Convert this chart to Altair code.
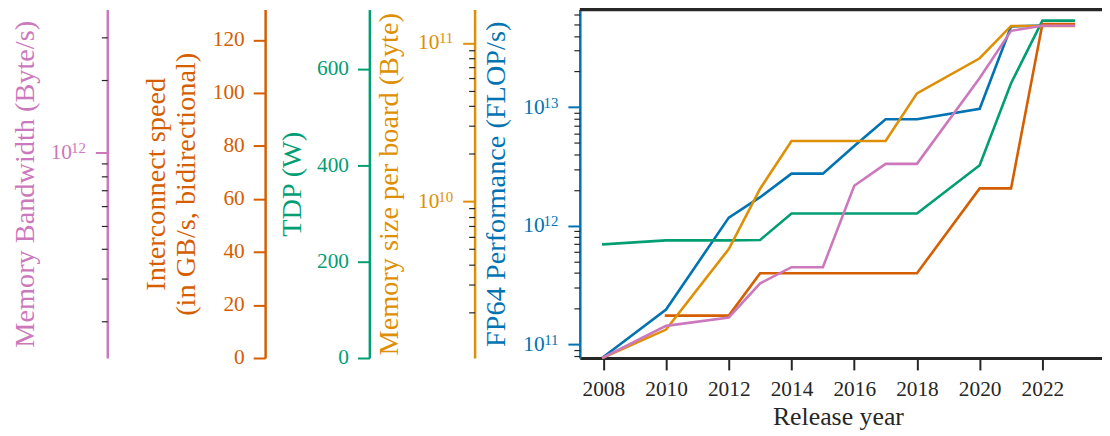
import altair as alt
import pandas as pd

# ---------------- data ----------------
years_fp64 = [2008, 2010, 2012, 2013, 2014, 2015, 2016, 2017, 2018, 2020, 2021, 2022, 2023]
fp64 = [7.8e10, 1.96e11, 1.17e12, 1.74e12, 2.75e12, 2.75e12, 4.7e12, 7.9e12, 7.9e12,
        9.7e12, 4.8e13, 4.9e13, 4.9e13]

years_memsize = [2008, 2010, 2012, 2013, 2014, 2015, 2016, 2017, 2018, 2020, 2021, 2022, 2023]
memsize = [1.03e9, 1.55e9, 5.0e9, 1.2e10, 2.4e10, 2.4e10, 2.4e10, 2.4e10, 4.8e10,
           8.0e10, 1.28e11, 1.28e11, 1.28e11]

years_tdp = [2008, 2010, 2012, 2013, 2014, 2015, 2016, 2017, 2018, 2020, 2021, 2022, 2023]
tdp = [236, 244, 244, 245, 300, 300, 300, 300, 300, 400, 570, 700, 700]

years_ic = [2010, 2012, 2013, 2014, 2015, 2016, 2017, 2018, 2020, 2021, 2022, 2023]
interconnect = [16, 16, 32, 32, 32, 32, 32, 32, 64, 64, 126, 126]

years_bw = [2008, 2010, 2012, 2013, 2014, 2015, 2016, 2017, 2018, 2020, 2021, 2022, 2023]
bandwidth = [1.42e11, 1.92e11, 2.08e11, 2.88e11, 3.36e11, 3.36e11, 7.3e11, 9.0e11, 9.0e11,
             2.04e12, 3.2e12, 3.36e12, 3.36e12]

x_ticks = [2008, 2010, 2012, 2014, 2016, 2018, 2020, 2022]

# ---------------- style ----------------
W, H = 526, 351
FONT = "Liberation Serif"
LFS = 21.5    # tick label size
EFS = 15      # exponent size
TFS = 28.5    # vertical axis title size
XTFS = 26     # x axis title size
DARK = "#262626"
C_BLUE = "#0173b2"
C_ORANGE = "#de8f05"
C_GREEN = "#029e73"
C_RED = "#d55e00"
C_PINK = "#cc78bc"

EXP = "'' + round(log(datum.value)/LN10)"

x_enc = alt.X(
    "year:Q",
    scale=alt.Scale(domain=[2007.25, 2023.9], nice=False, zero=False),
    axis=alt.Axis(values=x_ticks, format="d", title="Release year",
                  labelFont=FONT, titleFont=FONT, labelFontSize=LFS, titleFontSize=XTFS,
                  titleFontWeight="normal",
                  domainColor=DARK, domainWidth=3, tickColor=DARK, tickWidth=2,
                  tickSize=12, labelColor=DARK, labelPadding=26,
                  labelBaseline="alphabetic", titleColor=DARK,
                  titleX=260, titleY=67, titleBaseline="alphabetic", grid=False),
)


def major_axis(color, offset, title, values, title_x, log=False, line_height=None):
    kw = dict(orient="left", offset=offset, values=values, title=title,
              labelFont=FONT, titleFont=FONT, labelFontSize=LFS, titleFontSize=TFS,
              titleFontWeight="normal",
              titleColor=color, labelColor=color, domainColor=color, tickColor=color,
              domainWidth=2.5, tickWidth=2, tickSize=12, labelPadding=9, grid=False,
              titleX=title_x, titleY=H / 2, titleBaseline="alphabetic",
              titleAngle=270, titleAlign="center")
    if log:
        kw["labelExpr"] = "'10'"
        kw["labelPadding"] = 24
    else:
        kw["format"] = "d"
    if line_height:
        kw["titleLineHeight"] = line_height
    return alt.Axis(**kw)


def exp_axis(color, offset, values):
    return alt.Axis(orient="left", offset=offset, values=values, title=None,
                    labelExpr=EXP, labelFont=FONT, labelFontSize=EFS, labelColor=color,
                    labelPadding=10, labelBaseline="alphabetic", domain=False, grid=False,
                    tickSize=12, tickOpacity=0)


def minor_axis(offset, values):
    return alt.Axis(orient="left", offset=offset, values=values, title=None,
                    labels=False, domain=False, grid=False, tickColor=DARK,
                    tickWidth=1.2, tickSize=6)


def series(years, vals, color, scale, maxis, minor_vals=None, major_vals=None, offset=0):
    df = pd.DataFrame({"year": years, "value": vals})
    base = alt.Chart(df)
    line = base.mark_line(color=color, strokeWidth=2.6, strokeCap="square").encode(
        x=x_enc, y=alt.Y("value:Q", scale=scale, axis=maxis))
    if minor_vals is None:
        return line
    ghost_minor = base.mark_line(opacity=0).encode(
        x=x_enc, y=alt.Y("value:Q", scale=scale, axis=minor_axis(offset, minor_vals)))
    ghost_exp = base.mark_line(opacity=0).encode(
        x=x_enc, y=alt.Y("value:Q", scale=scale, axis=exp_axis(color, offset, major_vals)))
    return alt.layer(line, ghost_minor, ghost_exp).resolve_axis(y="independent")


fp64_major = [1e11, 1e12, 1e13]
fp64_minor = [8e10, 9e10] + [k * 1e11 for k in range(2, 10)] + \
             [k * 1e12 for k in range(2, 10)] + [k * 1e13 for k in range(2, 7)]
mem_major = [1e10, 1e11]
mem_minor = [k * 1e9 for k in range(2, 10)] + [k * 1e10 for k in range(2, 10)]
bw_major = [1e12]
bw_minor = [k * 1e11 for k in range(2, 10)] + [2e12, 3e12]

l_fp64 = series(years_fp64, fp64, C_BLUE,
                alt.Scale(type="log", domain=[7.64e10, 6.67e13], nice=False),
                major_axis(C_BLUE, 0, "FP64 Performance (FLOP/s)", fp64_major, -76, log=True),
                fp64_minor, fp64_major, 0)
l_tdp = series(years_tdp, tdp, C_GREEN,
               alt.Scale(domain=[0, 723], nice=False, zero=True),
               major_axis(C_GREEN, 212, "TDP (W)", [0, 200, 400, 600], -69))
l_ic = series(years_ic, interconnect, C_RED,
              alt.Scale(domain=[0, 131.5], nice=False, zero=True),
              major_axis(C_RED, 317, ["Interconnect speed", "(in GB/s, bidirectional)"],
                         [0, 20, 40, 60, 80, 100, 120], -101, line_height=30))
l_mem = series(years_memsize, memsize, C_ORANGE,
               alt.Scale(type="log", domain=[1.025e9, 1.624e11], nice=False),
               major_axis(C_ORANGE, 106, "Memory size per board (Byte)", mem_major, -78, log=True),
               mem_minor, mem_major, 106)
l_bw = series(years_bw, bandwidth, C_PINK,
              alt.Scale(type="log", domain=[1.413e11, 3.92e12], nice=False),
              major_axis(C_PINK, 476, "Memory Bandwidth (Byte/s)", bw_major, -74, log=True),
              bw_minor, bw_major, 476)

top_rule = alt.Chart(pd.DataFrame({"a": [0]})).mark_rule(color=DARK, strokeWidth=3.5).encode(
    x=alt.value(0), x2=alt.value(W), y=alt.value(0))

chart = alt.layer(l_fp64, l_tdp, l_ic, l_mem, l_bw, top_rule).resolve_scale(
    y="independent"
).properties(
    width=W, height=H,
    autosize=alt.AutoSizeParams(type="none"),
    padding={"left": 576, "top": 0, "right": 0, "bottom": 76},
).configure(font=FONT).configure_view(stroke=None)

chart.save("out.html", embed_options={"renderer": "svg", "actions": False})
